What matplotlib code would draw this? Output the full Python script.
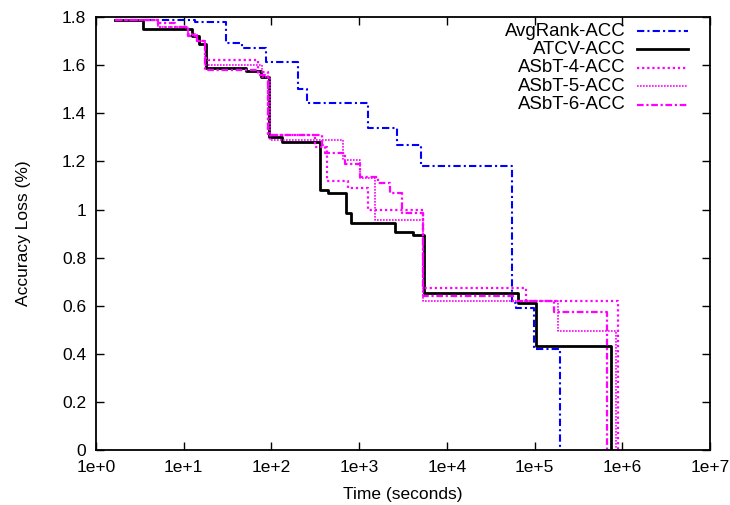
import matplotlib
matplotlib.use("Agg")
import matplotlib.pyplot as plt
from matplotlib.ticker import FixedLocator, NullLocator

plt.rcParams['font.family'] = ['Liberation Sans', 'DejaVu Sans']

# step data (time in seconds, accuracy loss in %)
avgrank_t = [1.65, 13.5, 30.5, 46, 87, 202, 256, 1274, 2730, 5130, 56100, 60700, 97500, 193000]
avgrank_v = [1.79, 1.78, 1.693, 1.67, 1.614, 1.503, 1.443, 1.34, 1.27, 1.18, 0.61, 0.59, 0.42, 0]

atcv_t = [1.65, 3.44, 12.5, 15, 18, 51.5, 76.5, 94.4, 133, 361, 445, 714, 815, 2590, 4160,
          5550, 64000, 103000, 738000]
atcv_v = [1.79, 1.75, 1.72, 1.69, 1.59, 1.575, 1.55, 1.30, 1.28, 1.08, 1.07, 0.985, 0.943, 0.907,
          0.894, 0.654, 0.612, 0.433, 0]

asbt4_t = [1.65, 5.1, 11.2, 14.2, 17.5, 19.0, 70.7, 91.9, 316, 433, 753, 1274, 5410, 81000, 886000]
asbt4_v = [1.79, 1.76, 1.725, 1.70, 1.63, 1.62, 1.57, 1.31, 1.26, 1.12, 1.09, 1.00, 0.673, 0.62, 0]

asbt5_t = [1.65, 5.1, 11.2, 14.2, 17.5, 78.5, 96.9, 660, 1032, 1531, 5410, 183000, 841000]
asbt5_v = [1.79, 1.76, 1.73, 1.70, 1.60, 1.55, 1.29, 1.205, 1.13, 0.955, 0.62, 0.494, 0]

asbt6_t = [1.65, 5.1, 8.0, 11.2, 14.2, 17.5, 70.7, 91.9, 380, 411, 695, 1032, 1656, 2270, 3113,
           5410, 57500, 165000, 664000]
asbt6_v = [1.79, 1.775, 1.76, 1.72, 1.70, 1.58, 1.56, 1.31, 1.27, 1.234, 1.19, 1.135, 1.11, 1.07,
           0.985, 0.64, 0.62, 0.574, 0]

labels = ['AvgRank-ACC', 'ATCV-ACC', 'ASbT-4-ACC', 'ASbT-5-ACC', 'ASbT-6-ACC']
x_ticks = [1e0, 1e1, 1e2, 1e3, 1e4, 1e5, 1e6, 1e7]
x_ticklabels = ['1e+0', '1e+1', '1e+2', '1e+3', '1e+4', '1e+5', '1e+6', '1e+7']
y_ticks = [0, 0.2, 0.4, 0.6, 0.8, 1, 1.2, 1.4, 1.6, 1.8]
y_ticklabels = ['0', '0.2', '0.4', '0.6', '0.8', '1', '1.2', '1.4', '1.6', '1.8']

series = [
    (avgrank_t, avgrank_v, dict(color='#0000ff', lw=1.5, ls=(0, (3.5, 1.5, 1, 1.5)))),
    (atcv_t, atcv_v, dict(color='black', lw=2.0, ls='-')),
    (asbt4_t, asbt4_v, dict(color='#ff00ff', lw=1.6, ls=(0, (1, 1.3)))),
    (asbt5_t, asbt5_v, dict(color='#ff00ff', lw=1.2, ls=(0, (1, 0.8)))),
    (asbt6_t, asbt6_v, dict(color='#ff00ff', lw=1.6, ls=(0, (3, 1.2, 1, 1.2)))),
]

fig = plt.figure(figsize=(7.3, 5.05), dpi=100)
ax = fig.add_axes([0.1315, 0.109, 0.841, 0.857])

for t, v, st in series:
    ax.step(t, v, where='post', **st)

ax.set_xscale('log')
ax.set_xlim(1, 1e7)
ax.set_ylim(0, 1.8)
ax.xaxis.set_major_locator(FixedLocator(x_ticks))
ax.xaxis.set_minor_locator(NullLocator())
ax.set_xticklabels(x_ticklabels)
ax.set_yticks(y_ticks)
ax.set_yticklabels(y_ticklabels)
ax.tick_params(direction='in', length=6, width=1, labelsize=12.5,
               top=True, right=True, pad=7)
for s in ax.spines.values():
    s.set_linewidth(1.3)

ax.set_xlabel('Time (seconds)', fontsize=12.5, labelpad=9)
ax.set_ylabel('Accuracy Loss (%)', fontsize=12.5, labelpad=22)

# gnuplot-style key: right-aligned labels, sample line to the right
row0 = 0.968
dy = 0.0425
for i, (lab, (t, v, st)) in enumerate(zip(labels, series)):
    yy = row0 - i * dy
    ax.text(0.863, yy, lab, transform=ax.transAxes, ha='right', va='center', fontsize=13.4)
    ax.plot([0.881, 0.964], [yy, yy], transform=ax.transAxes, **st)

fig.savefig('out.png', dpi=100)
